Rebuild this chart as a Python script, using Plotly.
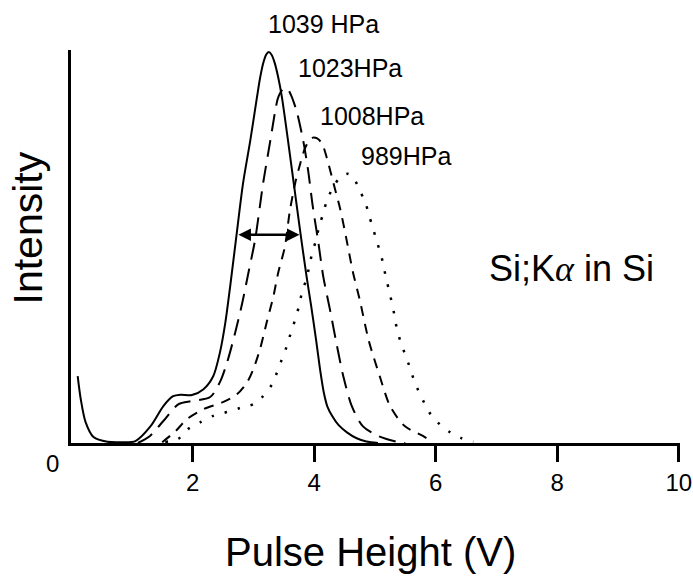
import plotly.graph_objects as go

# Pulse-height spectra of Si K-alpha in Si at four gas pressures
x_1039 = [0.11, 0.16, 0.24, 0.37, 0.60, 0.85, 1.06, 1.31, 1.52, 1.68, 1.80, 1.99, 2.18, 2.34,
          2.45, 2.54, 2.62, 2.72, 2.83, 2.95, 3.06, 3.11, 3.16, 3.21, 3.255, 3.30, 3.35, 3.41,
          3.47, 3.57, 3.67, 3.77, 3.87, 3.95, 4.03, 4.10, 4.16, 4.22, 4.30, 4.40, 4.54, 4.70,
          4.86, 5.05]
y_1039 = [17.0, 11.2, 5.3, 1.5, 0.3, 0.2, 0.5, 4.3, 9.4, 11.9, 12.3, 12.2, 13.7, 17.0,
          23.0, 30.7, 40.0, 52.5, 66.0, 77.0, 88.0, 92.8, 96.5, 98.8, 99.5, 98.8, 96.8, 93.0,
          88.0, 77.0, 65.5, 54.0, 43.0, 35.0, 26.5, 18.5, 12.8, 9.2, 6.8, 4.6, 2.7, 1.2,
          0.4, 0.0]

x_1023 = [1.10, 1.30, 1.52, 1.77, 1.99, 2.29, 2.45, 2.57, 2.70, 2.82, 2.92, 3.03, 3.16, 3.28,
          3.36, 3.40, 3.45, 3.49, 3.53, 3.57, 3.62, 3.67, 3.72, 3.82, 3.90, 3.98, 4.07, 4.15,
          4.26, 4.37, 4.48, 4.62, 4.80, 5.05, 5.36, 5.50]
y_1023 = [0.0, 1.8, 5.6, 9.9, 10.7, 11.7, 15.5, 20.6, 28.0, 35.8, 43.4, 51.8, 66.0, 77.0,
          84.5, 87.5, 89.3, 90.1, 90.3, 90.0, 88.5, 86.5, 84.0, 77.0, 69.5, 60.0, 51.0, 42.4,
          34.0, 25.2, 17.0, 9.4, 4.3, 1.8, 0.3, 0.0]

x_1008 = [1.50, 1.72, 1.91, 2.18, 2.50, 2.73, 2.90, 3.00, 3.11, 3.22, 3.33, 3.41, 3.52, 3.60,
          3.69, 3.77, 3.85, 3.92, 3.98, 4.05, 4.13, 4.21, 4.32, 4.43, 4.53, 4.64, 4.75, 4.90,
          5.08, 5.25, 5.49, 5.79, 5.95]
y_1008 = [0.2, 3.0, 6.1, 8.6, 10.4, 12.4, 15.5, 18.8, 23.9, 30.7, 37.3, 43.4, 50.0, 59.0,
          66.2, 71.0, 75.0, 77.0, 77.7, 77.5, 76.2, 72.5, 66.0, 59.5, 52.0, 43.4, 36.5, 26.0,
          17.0, 9.4, 4.3, 1.8, 0.2]

x_989 = [1.55, 1.77, 1.93, 2.13, 2.34, 2.57, 2.78, 3.00, 3.16, 3.31, 3.39, 3.47, 3.55, 3.62,
         3.69, 3.75, 3.80, 3.87, 3.92, 3.97, 4.03, 4.08, 4.15, 4.21, 4.31, 4.44, 4.55, 4.64,
         4.74, 4.84, 4.90, 4.97, 5.03, 5.10, 5.15, 5.20, 5.25, 5.30, 5.34, 5.39, 5.46, 5.54,
         5.61, 5.69, 5.79, 5.89, 6.03, 6.21, 6.41, 6.62]
y_989 = [0.3, 1.1, 3.6, 5.3, 6.9, 7.9, 8.9, 9.9, 11.9, 15.0, 18.0, 21.3, 24.6, 28.2,
         31.5, 34.8, 38.3, 41.6, 44.9, 48.5, 51.5, 55.0, 58.4, 61.7, 65.0, 67.8, 68.5, 67.8,
         64.5, 61.4, 58.1, 54.6, 51.3, 48.0, 44.4, 41.0, 37.6, 34.3, 30.7, 27.4, 24.1, 20.8,
         17.5, 14.2, 10.9, 7.9, 5.3, 3.0, 1.3, 0.3]

pressure_labels = ["1039 HPa", "1023HPa", "1008HPa", "989HPa"]
label_x = [3.23, 3.72, 4.08, 4.75]
label_y = [106.6, 95.5, 83.1, 73.1]

x_ticks = [2, 4, 6, 8, 10]

# full width at half maximum of the 1039 HPa peak
fwhm_left, fwhm_right, fwhm_level = 2.73, 3.76, 53.0

X_MAX, Y_MAX = 10.02, 100.0
FONT = "Liberation Sans, Arial, sans-serif"

# (x, y, dash pattern, line width)
series = [
    (x_1039, y_1039, "solid", 2),
    (x_1023, y_1023, "17px,9px", 2),
    (x_1008, y_1008, "10px,8px", 2),
    (x_989, y_989, "2.5px,11px", 2.5),
]

fig = go.Figure()
for xs, ys, dash, lw in series:
    fig.add_trace(go.Scatter(
        x=xs, y=ys, mode="lines",
        line=dict(color="black", width=lw, dash=dash, shape="spline", smoothing=0.8),
        showlegend=False, hoverinfo="skip", cliponaxis=False,
    ))


def paper(xv, yv):
    """Data position -> paper position (text may sit outside the axes)."""
    return xv / X_MAX, yv / Y_MAX


annotations = []
for txt, lx, ly in zip(pressure_labels, label_x, label_y):
    px, py = paper(lx, ly)
    annotations.append(dict(x=px, y=py, xref="paper", yref="paper", text=txt,
                            showarrow=False, xanchor="left", yanchor="middle", borderpad=0,
                            font=dict(family=FONT, size=25, color="black")))

px, py = paper(6.86, 44.5)
annotations.append(dict(
    x=px, y=py, xref="paper", yref="paper", showarrow=False, xanchor="left",
    yanchor="middle", borderpad=0,
    text='Si;K<span style="font-family:Liberation Serif;font-style:italic">α</span> in Si',
    font=dict(family=FONT, size=36, color="black")))

# double-headed FWHM arrow
annotations.append(dict(
    x=fwhm_right, y=fwhm_level, ax=fwhm_left, ay=fwhm_level,
    xref="x", yref="y", axref="x", ayref="y", text="", showarrow=True,
    arrowhead=2, startarrowhead=2, arrowside="end+start", arrowsize=1.0,
    startarrowsize=1.0, arrowwidth=2.5, arrowcolor="black", standoff=0, startstandoff=0))

# origin label, axis titles
px, py = paper(-0.31, -5.3)
annotations.append(dict(x=px, y=py, xref="paper", yref="paper", text="0", showarrow=False,
                        xanchor="center", yanchor="middle",
                        font=dict(family=FONT, size=24, color="black")))
px, py = paper(4.92, -27.8)
annotations.append(dict(x=px, y=py, xref="paper", yref="paper", text="Pulse Height (V)",
                        showarrow=False, xanchor="center", yanchor="middle",
                        font=dict(family=FONT, size=40, color="black")))
px, py = paper(-0.70, 54.7)
annotations.append(dict(x=px, y=py, xref="paper", yref="paper", text="Intensity",
                        showarrow=False, xanchor="center", yanchor="middle", textangle=-90,
                        font=dict(family=FONT, size=41, color="black")))

fig.update_layout(
    width=693, height=576,
    margin=dict(l=70.5, r=12.5, t=50, b=133.2, pad=0, autoexpand=False),
    paper_bgcolor="white", plot_bgcolor="white",
    annotations=annotations,
    xaxis=dict(range=[0, X_MAX], showgrid=False, zeroline=False, showline=True,
               automargin=False,
               linecolor="black", linewidth=3, ticks="outside", ticklen=16, tickwidth=3,
               tickcolor="black", tickvals=x_ticks, ticktext=[str(t) for t in x_ticks],
               tickfont=dict(family=FONT, size=24, color="black")),
    yaxis=dict(range=[0, Y_MAX], showgrid=False, zeroline=False, showline=True,
               automargin=False,
               linecolor="black", linewidth=3, ticks="", showticklabels=False),
)

fig.write_html("out.html")
